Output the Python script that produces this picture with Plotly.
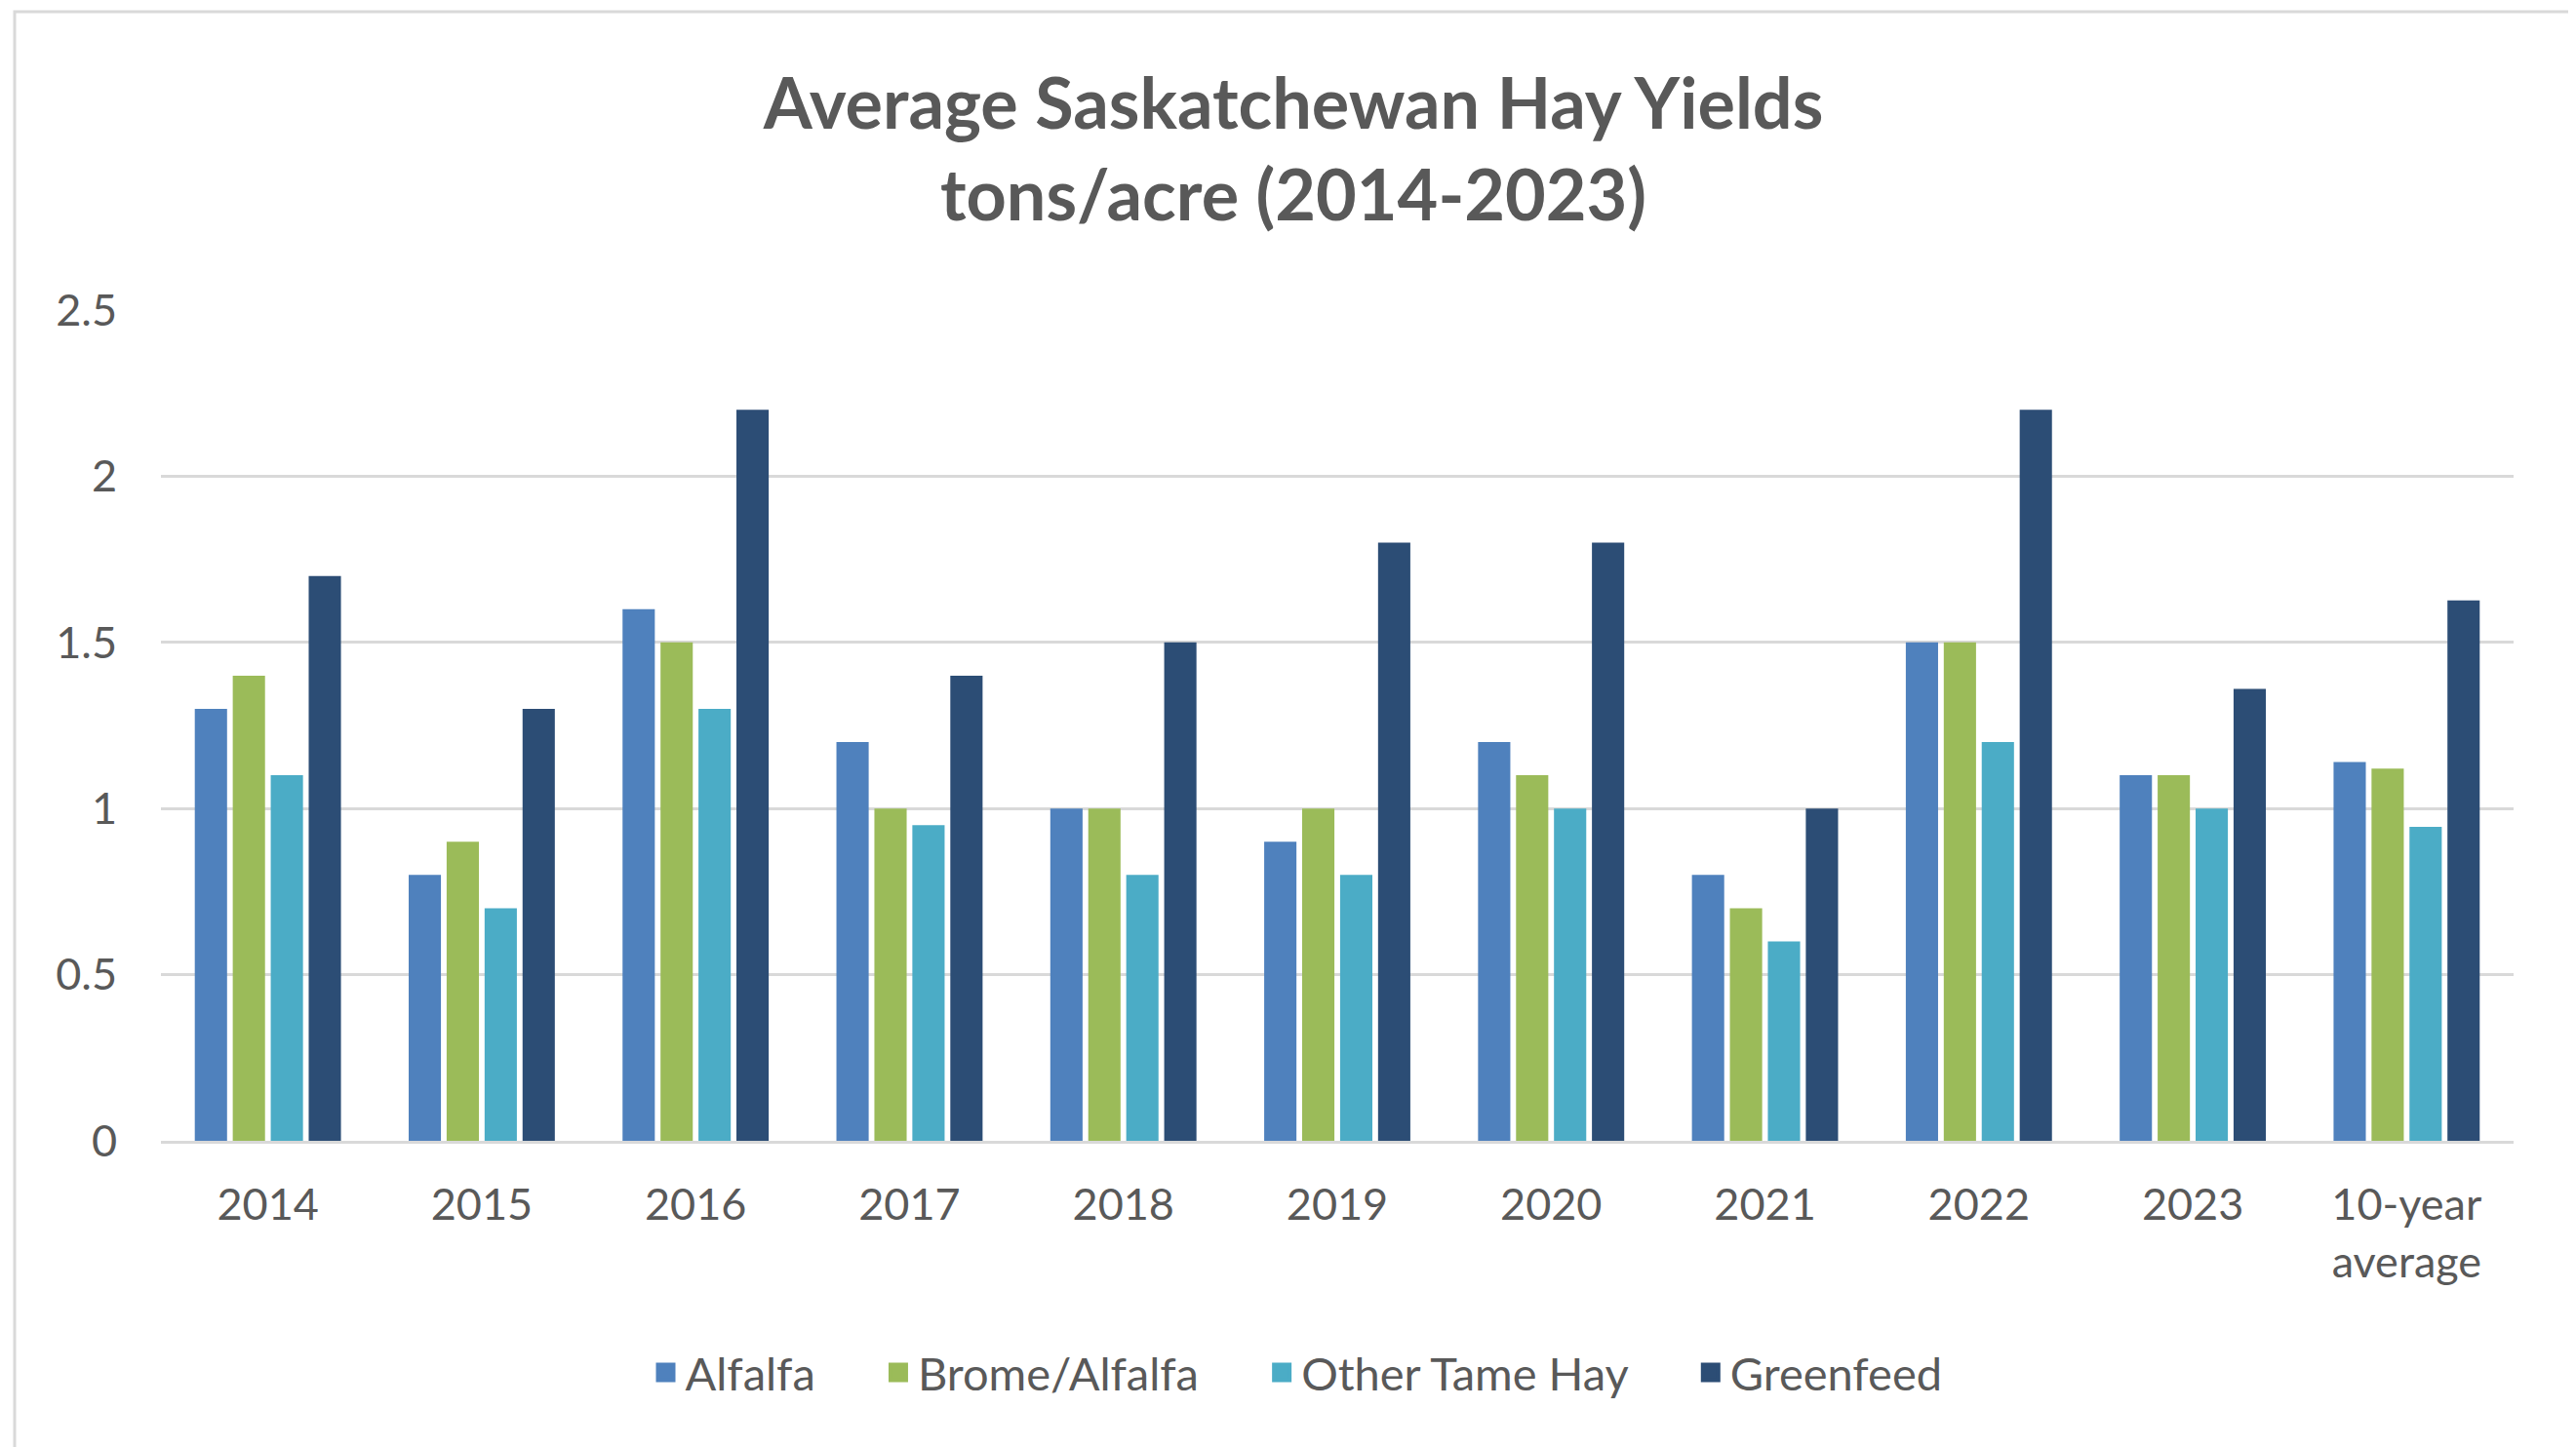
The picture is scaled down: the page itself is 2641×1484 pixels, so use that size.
import plotly.graph_objects as go

categories = ["2014", "2015", "2016", "2017", "2018", "2019", "2020", "2021", "2022", "2023", "10-year<br>average"]
alfalfa = [1.3, 0.8, 1.6, 1.2, 1.0, 0.9, 1.2, 0.8, 1.5, 1.1, 1.14]
brome_alfalfa = [1.4, 0.9, 1.5, 1.0, 1.0, 1.0, 1.1, 0.7, 1.5, 1.1, 1.12]
other_tame_hay = [1.1, 0.7, 1.3, 0.95, 0.8, 0.8, 1.0, 0.6, 1.2, 1.0, 0.945]
greenfeed = [1.7, 1.3, 2.2, 1.4, 1.5, 1.8, 1.8, 1.0, 2.2, 1.36, 1.626]

series_names = ["Alfalfa", "Brome/Alfalfa", "Other Tame Hay", "Greenfeed"]
series_values = [alfalfa, brome_alfalfa, other_tame_hay, greenfeed]
series_colors = ["#4F81BD", "#9BBB59", "#4BACC6", "#2C4D75"]

FONT = "Lato"
GRAY = "#595959"
NB = "\u00a0"

fig = go.Figure()
for name, vals, col in zip(series_names, series_values, series_colors):
    fig.add_trace(go.Bar(x=categories, y=vals, name=name, showlegend=False,
                         marker=dict(color=col, line=dict(width=0))))
# legend entries with larger square swatches
for i, (name, col) in enumerate(zip(series_names, series_colors)):
    pad = NB * 5 if i < len(series_names) - 1 else ""
    fig.add_trace(go.Scatter(x=[None], y=[None], mode="markers", name=name + pad,
                             marker=dict(symbol="square", size=16, color=col,
                                         line=dict(color=col, width=4)),
                             showlegend=True, hoverinfo="skip"))

OFF = 8  # default page body margin
W, H = 2641 - OFF, 1484 - OFF
L = 165 - OFF
T = 318 - OFF
R = W - (2577 - OFF)
B = H - (1170 - OFF)
pw = W - L - R
ph = H - T - B

fig.update_layout(
    width=W, height=H,
    margin=dict(l=L, r=R, t=T, b=B),
    paper_bgcolor="white", plot_bgcolor="white",
    barmode="group", bargap=0.29, bargroupgap=0.15,
    font=dict(family=FONT, color=GRAY, size=45),
    title=dict(text="<b>Average Saskatchewan Hay Yields<br>tons/acre (2014-2023)</b>",
               x=(1326 - OFF) / W, xanchor="center", y=1 - 124 / H, yanchor="middle",
               yref="container",
               font=dict(family=FONT, size=72, color=GRAY)),
    legend=dict(orientation="h", x=((674 + 2001) / 2 - 8 - OFF - L) / pw, xanchor="center",
                y=-(1400 - OFF - (H - B) + OFF) / ph, yanchor="middle",
                font=dict(family=FONT, size=47, color=GRAY),
                itemwidth=30, traceorder="normal"),
    xaxis=dict(showgrid=False, showline=True, linecolor="#D9D9D9", linewidth=3,
               ticks="", ticklabelstandoff=24,
               tickfont=dict(family=FONT, size=45, color=GRAY)),
    yaxis=dict(range=[0, 2.5], tickvals=[0, 0.5, 1, 1.5, 2, 2.5],
               ticktext=["0", "0.5", "1", "1.5", "2", "2.5"],
               showgrid=True, gridcolor="#D9D9D9", gridwidth=3,
               zeroline=False, showline=False, ticks="", ticklabelstandoff=44,
               tickfont=dict(family=FONT, size=45, color=GRAY)),
    shapes=[dict(type="rect", xref="paper", yref="paper",
                 x0=(15 - OFF - L) / pw, x1=(2638 - OFF - L) / pw,
                 y0=-(1520 - OFF - (H - B)) / ph, y1=((H - B) - (12 - OFF)) / ph,
                 line=dict(color="#D9D9D9", width=3), fillcolor="rgba(0,0,0,0)",
                 layer="below")],
)

fig.write_html("out.html")
